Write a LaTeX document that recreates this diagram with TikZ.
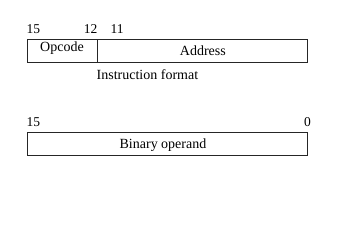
\documentclass[tikz,border=0pt]{standalone}
\usepackage{fontspec}
\setmainfont{Liberation Serif}
\usetikzlibrary{calc,positioning}

\begin{document}
\begin{tikzpicture}[x=1pt, y=1pt,
  field/.style={draw=black!85, line width=0.9pt, minimum height=23pt, inner sep=0pt, font=\fontsize{14}{16}\selectfont},
  bitno/.style={inner sep=0pt, font=\fontsize{13.5}{16}\selectfont},
  caption/.style={inner sep=0pt, font=\fontsize{14}{16}\selectfont}
]
\useasboundingbox (0,0) rectangle (346,230);
\node[field, minimum width=70pt] (opcode) at (62,179.5) {\raisebox{2pt}[\height][\depth]{Opcode}};
\node[field, minimum width=210pt, right=0pt of opcode] (address) {Address};
\node[field, minimum width=280pt] (operand) at (167,86.5) {\hspace*{-8pt}\raisebox{-2pt}[\height][\depth]{Binary operand}};

\node[bitno, anchor=base west] (b15) at ($(opcode.north west)+(0,5)$) {15};
\node[bitno, anchor=base east] (b12) at ($(opcode.north east)+(0,5)$) {12};
\node[bitno, anchor=base west] (b11) at ($(address.north west)+(13,5)$) {11};
\node[caption, anchor=base] (fmt) at ($(address.south west)+(50,-17)$) {Instruction format};

\node[bitno, anchor=base west] (o15) at ($(operand.north west)+(0,5)$) {15};
\node[bitno, anchor=base] (o0) at ($(operand.north east)+(0,5)$) {0};
\end{tikzpicture}
\end{document}
